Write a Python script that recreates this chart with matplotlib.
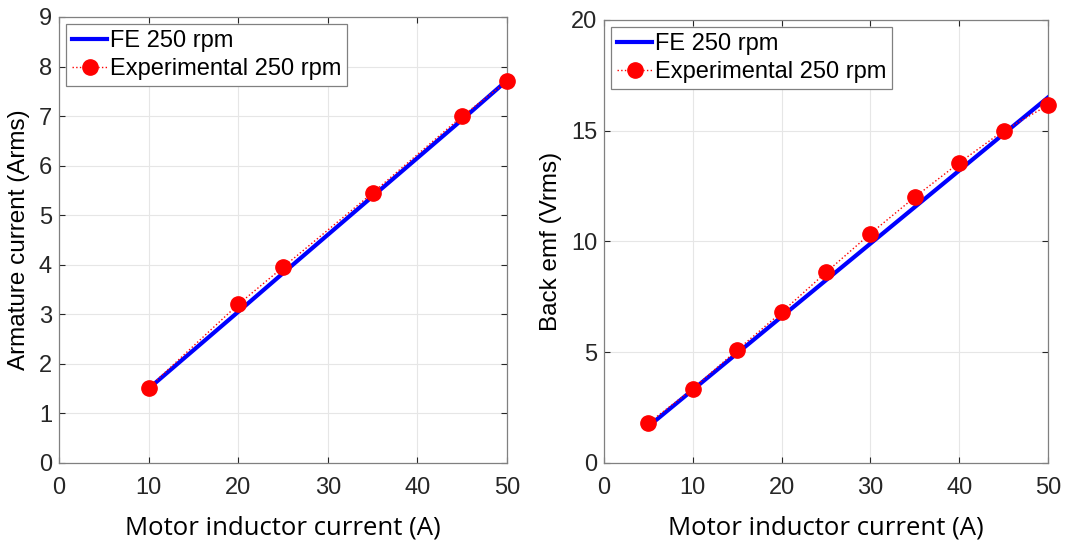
import matplotlib
matplotlib.use("Agg")
import matplotlib.pyplot as plt

# Datos del gráfico izquierdo (corriente de armadura)
x_left = [10, 20, 25, 35, 45, 50]
fe_left = [1.50, 3.05, 3.83, 5.38, 6.93, 7.72]
exp_left = [1.52, 3.20, 3.95, 5.45, 7.00, 7.70]

# Datos del gráfico derecho (back emf)
x_right = [5, 10, 15, 20, 25, 30, 35, 40, 45, 50]
fe_right = [1.65, 3.30, 4.95, 6.60, 8.25, 9.90, 11.55, 13.20, 14.85, 16.50]
exp_right = [1.80, 3.35, 5.10, 6.80, 8.60, 10.35, 12.00, 13.55, 15.00, 16.15]

plt.rcParams['font.family'] = ['Liberation Sans', 'DejaVu Sans']

fig = plt.figure(figsize=(10.65, 5.47), dpi=100)
ax1 = fig.add_axes([0.0554, 0.1536, 0.4207, 0.8154])
ax2 = fig.add_axes([0.5671, 0.1536, 0.4169, 0.8100])


def dibujar(ax, x, fe, exp, ymax, yticks, ylabel):
    ax.plot(x, fe, color='#0000ff', lw=3, label='FE 250 rpm', zorder=3)
    ax.plot(x, exp, color='red', ls=':', lw=1, marker='o', markersize=11,
            label='Experimental 250 rpm', zorder=4, clip_on=False)
    ax.set_xlim(0, 50)
    ax.set_ylim(0, ymax)
    ax.set_xticks([0, 10, 20, 30, 40, 50])
    ax.set_yticks(yticks)
    ax.grid(True, color='#e6e6e6', lw=0.8)
    ax.set_axisbelow(True)
    ax.tick_params(labelsize=17, colors='#262626', direction='in', length=4,
                   top=True, right=True)
    ax.tick_params(axis='x', pad=10)
    ax.tick_params(axis='y', pad=5)
    for s in ax.spines.values():
        s.set_color('#808080')
        s.set_linewidth(0.9)
    ax.set_xlabel('Motor inductor current (A)', fontsize=18.5,
                  family=['Open Sans', 'DejaVu Sans'], labelpad=12)
    ax.set_ylabel(ylabel, fontsize=17.5, labelpad=6)
    leg = ax.legend(loc='upper left', fontsize=17, fancybox=False,
                    framealpha=1, edgecolor='#808080', handlelength=1.5,
                    handletextpad=0.1, borderaxespad=0.3, borderpad=0.25,
                    labelspacing=0.25)
    leg.get_frame().set_linewidth(0.9)


dibujar(ax1, x_left, fe_left, exp_left, 9, range(0, 10), 'Armature current (Arms)')
dibujar(ax2, x_right, fe_right, exp_right, 20, [0, 5, 10, 15, 20], 'Back emf (Vrms)')

fig.savefig('out.png', dpi=100)
